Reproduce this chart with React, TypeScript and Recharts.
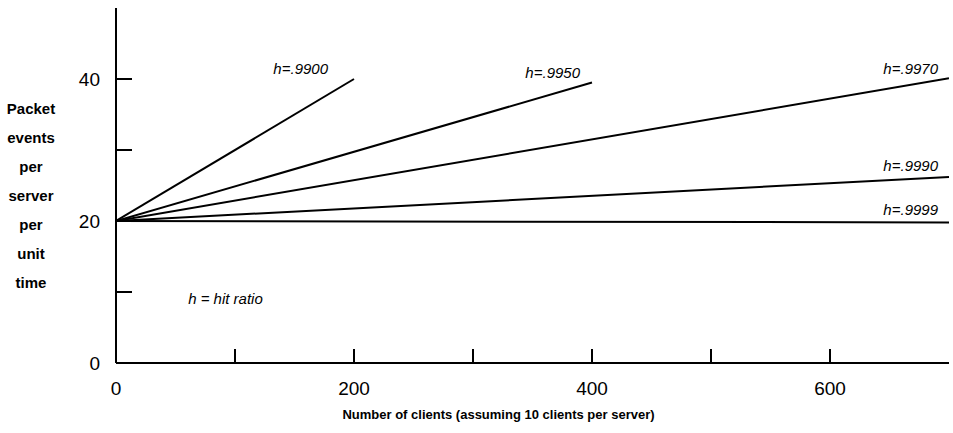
import { LineChart, Line, XAxis, YAxis, ReferenceDot } from "recharts";

const ratioNames = ["h=.9900", "h=.9950", "h=.9970", "h=.9990", "h=.9999"];
const startClients = 0;
const startEvents = 20;
const endClients = [200, 400, 700, 700, 700];
const endEvents = [40, 39.5, 40.1, 26.2, 19.8];

const xTicks = [0, 100, 200, 300, 400, 500, 600];
const xLabeledTicks = [0, 200, 400, 600];
const yTicks = [0, 10, 20, 30, 40];
const yLabeledTicks = [0, 20, 40];

const yTitleLines = ["Packet", "events", "per", "server", "per", "unit", "time"];
const xTitle = "Number of clients (assuming 10 clients per server)";
const note = "h = hit ratio";
const noteAt = { clients: 92, events: 9 };

const FONT = "'Liberation Sans', Arial, Helvetica, sans-serif";

// label placement relative to the line end
const labelOffset: Record<string, [number, number]> = {
  "h=.9900": [-26, -5],
  "h=.9950": [-12, -5],
  "h=.9970": [-11, -4],
  "h=.9990": [-11, -6],
  "h=.9999": [-11, -7],
};

const series = ratioNames.map((name, i) => ({
  name,
  data: [
    { clients: startClients, events: startEvents },
    { clients: endClients[i], events: endEvents[i] },
  ],
}));

function XTick(props: any) {
  const { x, y, payload } = props;
  const v = payload.value;
  return (
    <g>
      {v > 0 && <line x1={x} y1={y} x2={x} y2={y - 14} stroke="#000" strokeWidth={2} />}
      {xLabeledTicks.includes(v) && (
        <text x={x} y={y + 32} textAnchor="middle" fontFamily={FONT} fontSize={19} fill="#000">
          {v}
        </text>
      )}
    </g>
  );
}

function YTick(props: any) {
  const { x, y, payload } = props;
  const v = payload.value;
  return (
    <g>
      {v > 0 && <line x1={x} y1={y} x2={x + 16} y2={y} stroke="#000" strokeWidth={2} />}
      {yLabeledTicks.includes(v) && (
        <text x={x - 16} y={y + 7} textAnchor="end" fontFamily={FONT} fontSize={19} fill="#000">
          {v}
        </text>
      )}
    </g>
  );
}

function YTitle() {
  return (
    <text fontFamily={FONT} fontSize={15} fontWeight="bold" textAnchor="middle" fill="#000">
      {yTitleLines.map((t, i) => (
        <tspan key={i} x={31} y={114 + i * 29}>
          {t}
        </tspan>
      ))}
    </text>
  );
}

function XTitle(props: any) {
  const vb = props.viewBox || {};
  return (
    <text
      x={vb.x + vb.width / 2 - 34}
      y={419}
      textAnchor="middle"
      fontFamily={FONT}
      fontSize={13}
      fontWeight="bold"
      fill="#000"
    >
      {xTitle}
    </text>
  );
}

function makeEndLabel(name: string, lastIndex: number) {
  return (props: any) => {
    const { x, y, index } = props;
    if (index !== lastIndex) return null;
    const [dx, dy] = labelOffset[name];
    return (
      <text
        key={name}
        x={x + dx}
        y={y + dy}
        textAnchor="end"
        fontFamily={FONT}
        fontSize={15}
        fontStyle="italic"
        fill="#000"
      >
        {name}
      </text>
    );
  };
}

export default function App() {
  return (
    <div style={{ position: "absolute", left: 0, top: 0, background: "#fff" }}>
      <LineChart width={953} height={433} margin={{ top: 8, right: 4, bottom: 0, left: 0 }}>
        <XAxis
          type="number"
          dataKey="clients"
          domain={[0, 700]}
          ticks={xTicks}
          tick={<XTick />}
          tickLine={false}
          tickSize={0}
          tickMargin={0}
          height={70}
          axisLine={{ stroke: "#000", strokeWidth: 2 }}
          allowDataOverflow
          label={<XTitle />}
        />
        <YAxis
          type="number"
          dataKey="events"
          domain={[0, 50]}
          ticks={yTicks}
          tick={<YTick />}
          tickLine={false}
          tickSize={0}
          tickMargin={0}
          width={116}
          axisLine={{ stroke: "#000", strokeWidth: 2 }}
          label={<YTitle />}
        />
        {series.map((s) => (
          <Line
            key={s.name}
            data={s.data}
            dataKey="events"
            type="linear"
            stroke="#000"
            strokeWidth={2}
            dot={false}
            activeDot={false}
            isAnimationActive={false}
            label={makeEndLabel(s.name, s.data.length - 1)}
          />
        ))}
        <ReferenceDot
          x={noteAt.clients}
          y={noteAt.events}
          r={0}
          shape={(p: any) => (
            <text
              x={p.cx}
              y={p.cy + 5}
              textAnchor="middle"
              fontFamily={FONT}
              fontSize={15}
              fontStyle="italic"
              fill="#000"
            >
              {note}
            </text>
          )}
        />
      </LineChart>
    </div>
  );
}
